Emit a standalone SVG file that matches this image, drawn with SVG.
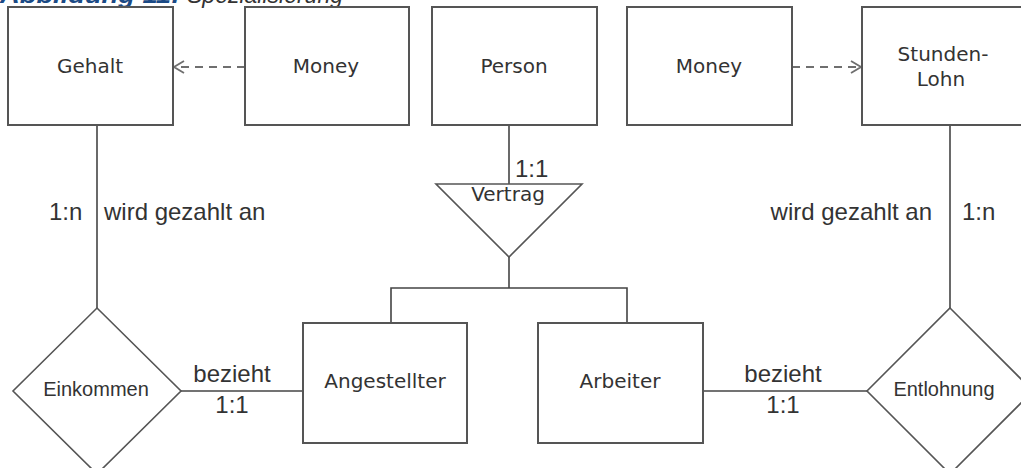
<svg xmlns="http://www.w3.org/2000/svg" width="1021" height="468" viewBox="0 0 1021 468">
  <style>
    .box { fill: #ffffff; stroke: #555555; stroke-width: 2; }
    .rel { fill: #ffffff; stroke: #555555; stroke-width: 1.6; }
    .line { fill: none; stroke: #444444; stroke-width: 1.6; }
    .dash { fill: none; stroke: #6f6f6f; stroke-width: 2; stroke-dasharray: 8 6; }
    .lbl { font-family: "DejaVu Sans", Verdana, sans-serif; font-size: 20px; fill: #333333; text-anchor: middle; }
    .rlbl { font-family: "Liberation Sans", Arial, sans-serif; font-size: 20px; fill: #333333; text-anchor: middle; }
    .card { font-family: "Liberation Sans", Arial, sans-serif; font-size: 24px; fill: #333333; }
    .mid { text-anchor: middle; }
    .end { text-anchor: end; }
  </style>
  <defs>
    <marker id="open" viewBox="0 0 12 14" refX="11" refY="7" markerWidth="12" markerHeight="14" markerUnits="userSpaceOnUse" orient="auto">
      <path d="M1,1 L11,7 L1,13" fill="none" stroke="#6f6f6f" stroke-width="1.8"/>
    </marker>
  </defs>

  <rect width="1021" height="468" fill="#ffffff"/>

  <!-- caption (clipped at the top edge) -->
  <g id="caption">
    <text x="0" y="3" font-family="Liberation Sans, Arial, sans-serif" font-size="23" font-weight="bold" font-style="italic" fill="#1b4a85" textLength="180" lengthAdjust="spacingAndGlyphs">Abbildung 11:</text>
    <text x="187" y="3" font-family="Liberation Sans, Arial, sans-serif" font-size="23" font-style="italic" fill="#333333" textLength="156" lengthAdjust="spacingAndGlyphs">Spezialisierung</text>
  </g>

  <!-- connectors -->
  <g id="connectors">
    <line class="dash" x1="245" y1="67" x2="174" y2="67" marker-end="url(#open)"/>
    <line class="dash" x1="792" y1="67" x2="861" y2="67" marker-end="url(#open)"/>
    <line class="line" x1="97" y1="125" x2="97" y2="308"/>
    <line class="line" x1="950" y1="125" x2="950" y2="308"/>
    <line class="line" x1="509" y1="125" x2="509" y2="184"/>
    <polyline class="line" points="509,257 509,288"/>
    <polyline class="line" points="391,323 391,288 627,288 627,323"/>
    <line class="line" x1="181" y1="391" x2="303" y2="391"/>
    <line class="line" x1="703" y1="391" x2="867" y2="391"/>
    <text class="card" x="49" y="220">1:n</text>
    <text class="card" x="104" y="220">wird gezahlt an</text>
    <text class="card end" x="932" y="220">wird gezahlt an</text>
    <text class="card" x="962" y="220">1:n</text>
    <text class="card mid" x="232" y="382">bezieht</text>
    <text class="card mid" x="232" y="413">1:1</text>
    <text class="card mid" x="783" y="382">bezieht</text>
    <text class="card mid" x="783" y="413">1:1</text>
    <text class="card" x="515" y="177">1:1</text>
  </g>

  <g id="gehalt">
    <rect class="box" x="8" y="7" width="165" height="118"/>
    <text class="lbl" x="90" y="73">Gehalt</text>
  </g>
  <g id="money-left">
    <rect class="box" x="245" y="7" width="164" height="118"/>
    <text class="lbl" x="326" y="73">Money</text>
  </g>
  <g id="person">
    <rect class="box" x="432" y="7" width="165" height="118"/>
    <text class="lbl" x="514" y="73">Person</text>
  </g>
  <g id="money-right">
    <rect class="box" x="627" y="7" width="165" height="118"/>
    <text class="lbl" x="709" y="73">Money</text>
  </g>
  <g id="stundenlohn">
    <rect class="box" x="862" y="7" width="165" height="118"/>
    <text class="lbl" x="943" y="61">Stunden-</text>
    <text class="lbl" x="941" y="86">Lohn</text>
  </g>
  <g id="vertrag">
    <polygon class="rel" points="436,184 582,184 509,257"/>
    <text class="lbl" x="508" y="201">Vertrag</text>
  </g>
  <g id="angestellter">
    <rect class="box" x="303" y="323" width="164" height="120"/>
    <text class="lbl" x="385" y="388">Angestellter</text>
  </g>
  <g id="arbeiter">
    <rect class="box" x="538" y="323" width="165" height="120"/>
    <text class="lbl" x="620" y="388">Arbeiter</text>
  </g>
  <g id="einkommen">
    <polygon class="rel" points="97,308 181,391 97,474 13,391"/>
    <text class="rlbl" x="96" y="396">Einkommen</text>
  </g>
  <g id="entlohnung">
    <polygon class="rel" points="950,308 1033,391 950,474 867,391"/>
    <text class="rlbl" x="944" y="396">Entlohnung</text>
  </g>
</svg>
